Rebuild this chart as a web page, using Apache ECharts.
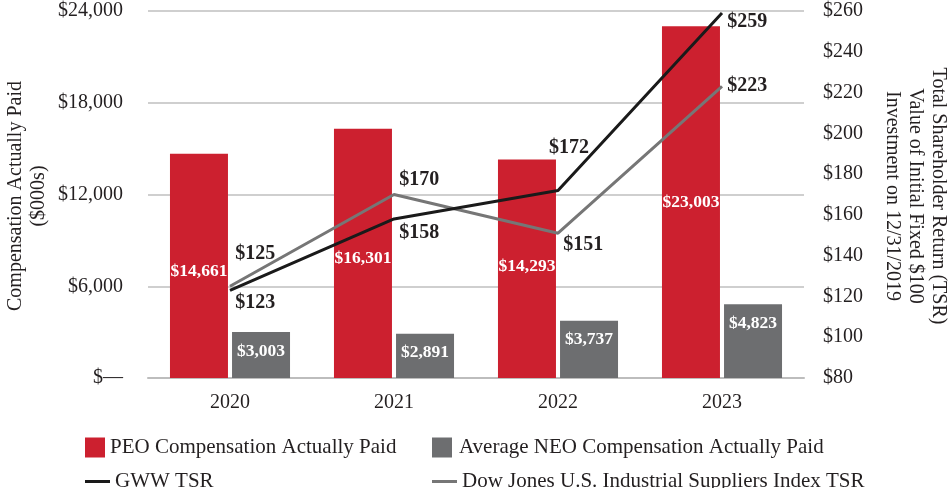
<!DOCTYPE html>
<html>
<head>
<meta charset="utf-8">
<script src="https://cdn.jsdelivr.net/npm/echarts@6/dist/echarts.min.js"></script>
<style>html,body{margin:0;padding:0;background:#fff;}#c{width:952px;height:488px;}</style>
</head>
<body>
<div id="c"></div>
<script>
var categories = ['2020', '2021', '2022', '2023'];
var peoValues = [14661, 16301, 14293, 23003];
var neoValues = [3003, 2891, 3737, 4823];
var gwwTsr = [123, 158, 172, 259];
var dowTsr = [125, 170, 151, 223];

var FONT = '"Liberation Serif", "Times New Roman", serif';
var TXT = '#231f20';
var RED = '#cc202f';
var GRAY = '#6d6e70';

function money(v) { return '$' + v.toLocaleString('en-US'); }

var peoOffsets = [[0, 6], [0, 5], [0, -2], [0, 0]];
var gwwLabel = [
  { show: true, position: 'right', offset: [0, 13] },
  { show: true, position: 'right', offset: [0, 14] },
  { show: true, position: 'top', offset: [11, -27] },
  { show: true, position: 'right', offset: [0, 9] }
];
var dowLabel = [
  { show: true, position: 'right', offset: [0, -32] },
  { show: true, position: 'right', offset: [0, -15] },
  { show: true, position: 'right', offset: [0, 12] },
  { show: true, position: 'right', offset: [0, -1] }
];

var chart = echarts.init(document.getElementById('c'));
chart.setOption({
  animation: false,
  textStyle: { fontFamily: FONT },
  grid: { left: 148, right: 148, top: 11, bottom: 110 },
  xAxis: {
    type: 'category',
    data: categories,
    axisLine: { lineStyle: { color: '#bdbdbd', width: 2 } },
    axisTick: { show: false },
    axisLabel: { color: TXT, fontFamily: FONT, fontSize: 20, margin: 15 }
  },
  yAxis: [{
    type: 'value', min: 0, max: 24000, interval: 6000,
    axisLine: { show: false }, axisTick: { show: false },
    splitLine: { lineStyle: { color: '#bfbfbf', width: 1.5 } },
    axisLabel: { color: TXT, fontFamily: FONT, fontSize: 20, margin: 25,
      formatter: function (v) { return v === 0 ? '$\u2014' : money(v); } }
  }, {
    type: 'value', min: 80, max: 260, interval: 20, position: 'right',
    axisLine: { show: false }, axisTick: { show: false }, splitLine: { show: false },
    axisLabel: { color: TXT, fontFamily: FONT, fontSize: 20, margin: 19,
      formatter: function (v) { return '$' + v; } }
  }],
  legend: [
    { data: ['PEO Compensation Actually Paid'], left: 80, top: 432, itemWidth: 20, itemHeight: 20, icon: 'rect',
      textStyle: { color: TXT, fontFamily: FONT, fontSize: 21 }, selectedMode: false },
    { data: ['Average NEO Compensation Actually Paid'], left: 427, top: 432, itemWidth: 20, itemHeight: 20, icon: 'rect',
      textStyle: { color: TXT, fontFamily: FONT, fontSize: 21, padding: [0, 0, 0, 2] }, selectedMode: false },
    { data: ['GWW TSR'], left: 80, top: 466, itemWidth: 25, itemHeight: 3, icon: 'rect',
      textStyle: { color: TXT, fontFamily: FONT, fontSize: 21 }, selectedMode: false },
    { data: ['Dow Jones U.S. Industrial Suppliers Index TSR'], left: 427, top: 466, itemWidth: 25, itemHeight: 3, icon: 'rect',
      textStyle: { color: TXT, fontFamily: FONT, fontSize: 21 }, selectedMode: false }
  ],
  graphic: [
    { type: 'text', x: 27, y: 196, rotation: Math.PI / 2,
      style: { text: 'Compensation Actually Paid\n($000s)', fill: TXT, font: '20px ' + FONT,
        textAlign: 'center', textVerticalAlign: 'middle', lineHeight: 23 } },
    { type: 'text', x: 915, y: 196, rotation: -Math.PI / 2,
      style: { text: 'Total Shareholder Return (TSR)\nValue of Initial Fixed $100\nInvestment on 12/31/2019', fill: TXT, font: '20px ' + FONT,
        textAlign: 'center', textVerticalAlign: 'middle', lineHeight: 23 } }
  ],
  series: [{
    name: 'PEO Compensation Actually Paid', type: 'bar', barWidth: 58, barGap: '7%',
    itemStyle: { color: RED },
    data: peoValues.map(function (v, i) {
      return { value: v, label: { offset: peoOffsets[i] } };
    }),
    label: { show: true, position: 'inside', color: '#fff', fontFamily: FONT, fontWeight: 'bold', fontSize: 17.5,
      formatter: function (p) { return money(p.value); } }
  }, {
    name: 'Average NEO Compensation Actually Paid', type: 'bar', barWidth: 58,
    itemStyle: { color: GRAY },
    data: neoValues,
    label: { show: true, position: 'insideTop', distance: 10, color: '#fff', fontFamily: FONT, fontWeight: 'bold', fontSize: 17.5,
      formatter: function (p) { return money(p.value); } }
  }, {
    name: 'Dow Jones U.S. Industrial Suppliers Index TSR', type: 'line', yAxisIndex: 1,
    symbol: 'circle', symbolSize: 0.5, showSymbol: true,
    lineStyle: { color: '#767676', width: 3 }, itemStyle: { color: '#767676' },
    data: dowTsr.map(function (v, i) { return { value: v, label: dowLabel[i] }; }),
    label: { show: true, color: TXT, fontFamily: FONT, fontWeight: 'bold', fontSize: 20,
      formatter: function (p) { return '$' + p.value; } }
  }, {
    name: 'GWW TSR', type: 'line', yAxisIndex: 1,
    symbol: 'circle', symbolSize: 0.5, showSymbol: true,
    lineStyle: { color: '#1a1a1a', width: 3 }, itemStyle: { color: '#1a1a1a' },
    data: gwwTsr.map(function (v, i) { return { value: v, label: gwwLabel[i] }; }),
    label: { show: true, color: TXT, fontFamily: FONT, fontWeight: 'bold', fontSize: 20,
      formatter: function (p) { return '$' + p.value; } }
  }]
});
</script>
</body>
</html>
